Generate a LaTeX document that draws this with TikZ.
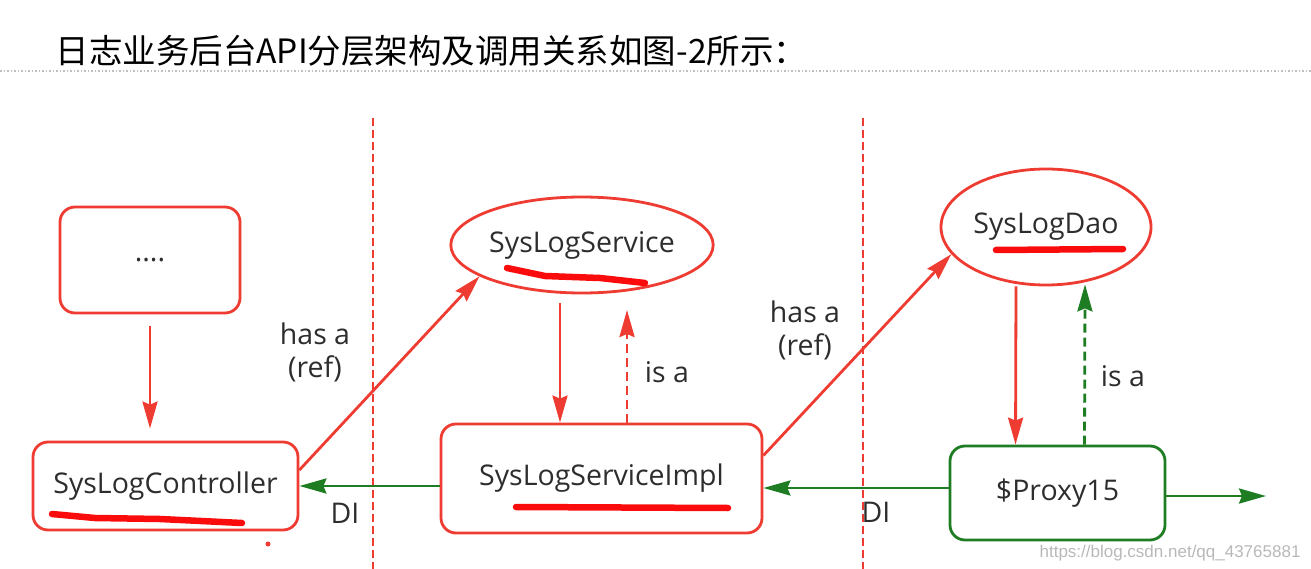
\documentclass[tikz,border=0pt]{standalone}
\usepackage{fontspec}
\setmainfont{Open Sans}
\newfontfamily\cjk{Noto Sans CJK SC}
\newfontfamily\urlfont{Liberation Sans}
\usetikzlibrary{arrows.meta,shapes.geometric}
\definecolor{boxred}{RGB}{238,60,50}
\definecolor{boxgreen}{RGB}{30,125,35}
\definecolor{penred}{RGB}{250,12,12}
\definecolor{txt}{RGB}{45,45,45}

\begin{document}
\begin{tikzpicture}[x=1pt,y=-1pt,
    lbl/.style={font=\fontsize{28.5}{33}\selectfont, text=txt},
    redbox/.style={lbl, draw=boxred, line width=2.8pt, rounded corners=15pt},
    greenbox/.style={lbl, draw=boxgreen, line width=2.8pt, rounded corners=15pt},
    redoval/.style={lbl, ellipse, draw=boxred, line width=2.8pt, inner sep=0pt},
    redarr/.style={draw=boxred, line width=2.8pt, -{Stealth[length=27pt,width=15pt,inset=3pt]}},
    greenarr/.style={draw=boxgreen, line width=2.8pt, -{Stealth[length=27pt,width=15pt,inset=3pt]}},
    isa/.style={dash pattern=on 9pt off 5pt},
    layer/.style={draw=boxred, line width=2.5pt, dash pattern=on 8pt off 4pt},
    scribble/.style={draw=penred, line width=6.5pt, line cap=round}]
    \useasboundingbox (0,0) rectangle (1311,569);

    \node[anchor=base west, font=\cjk\fontsize{33.5}{38}\selectfont, text=black] (title) at (52,64) {日志业务后台API分层架构及调用关系如图-2所示：};
    \draw[black!25, line width=1.5pt, dotted] (0,71) -- (1311,71);

    \draw[layer] (373,118) -- (373,569);
    \draw[layer] (863,118) -- (863,569);

    \node[redbox, minimum width=180pt, minimum height=106pt] (more) at (150,260) {....};
    \node[redbox, minimum width=265pt, minimum height=88pt] (ctrl) at (165.5,486) {SysLogController};
    \node[redoval, minimum width=248pt, minimum height=96pt] (svc) at (582,245) {SysLogService};
    \node[redbox, minimum width=321pt, minimum height=109pt] (impl) at (601.5,478.5) {SysLogServiceImpl};
    \node[redoval, minimum width=210pt, minimum height=116pt] (dao) at (1046,227) {SysLogDao};
    \node[greenbox, minimum width=215pt, minimum height=94pt] (proxy) at (1057.5,493) {\$Proxy15};
    \coordinate (out) at (1266,496);
    \coordinate (svcdown) at (560,303);
    \coordinate (svcup) at (627,310);

    \draw[redarr] ([yshift=-12pt]more.south) -- ([yshift=12pt]ctrl.north -| more.south);
    \draw[redarr] ([yshift=16pt]ctrl.east) -- (svc.197);
    \draw[redarr] (svcdown) -- (svcdown |- impl.north);
    \draw[redarr, isa] (svcup |- impl.north) -- (svcup);
    \draw[redarr] ([yshift=23pt]impl.east) -- (dao.196);
    \draw[redarr] ([xshift=-30pt]dao.south) -- ([xshift=-42pt]proxy.north);
    \draw[greenarr, isa] ([xshift=27pt]proxy.north) -- ([xshift=39pt,yshift=2pt]dao.south);
    \draw[greenarr] (ctrl.east -| impl.west) -- (ctrl.east);
    \draw[greenarr] ([yshift=5pt]proxy.west) -- ([yshift=5pt]proxy.west -| impl.east);
    \draw[greenarr] ([yshift=-3pt]proxy.east) -- (out);

    \node[lbl, align=center] at (315,352) {has a\\(ref)};
    \node[lbl, align=center] at (805,330) {has a\\(ref)};
    \node[lbl] at (667,372) {is a};
    \node[lbl] at (1123,376) {is a};
    \node[lbl] at (345,513) {DI};
    \node[lbl] at (876,512) {DI};

    \draw[scribble] (52,514) -- (95,518) -- (160,519) -- (242,523);
    \draw[scribble] (507,268) -- (545,276) -- (600,278) -- (645,283);
    \draw[scribble] (516,507) -- (728,508);
    \draw[scribble] (996,250) -- (1123,249);
    \fill[boxred] (268,544) circle (2.5pt);

    \node[anchor=base east, font=\urlfont\fontsize{17}{20}\selectfont, text=black!28] at (1304,557) {https://blog.csdn.net/qq\_43765881};
\end{tikzpicture}
\end{document}
